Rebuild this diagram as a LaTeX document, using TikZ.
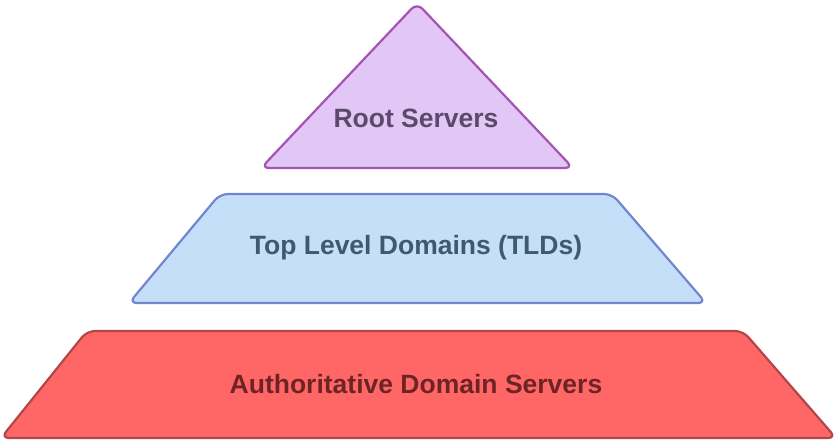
\documentclass[tikz,border=0pt]{standalone}
\usepackage{fontspec}
\setmainfont{Liberation Sans}
\definecolor{purpfill}{HTML}{E1C6F6}
\definecolor{purpline}{HTML}{A454B4}
\definecolor{purptext}{HTML}{5C4A6C}
\definecolor{bluefill}{HTML}{C6DFF9}
\definecolor{blueline}{HTML}{7286D0}
\definecolor{bluetext}{HTML}{3E5A70}
\definecolor{redfill}{HTML}{FF6767}
\definecolor{redline}{HTML}{B34646}
\definecolor{redtext}{HTML}{6E2424}
\tikzset{
  layer/.style={line width=2.2pt, rounded corners=8pt, line join=round},
  lbl/.style={font=\fontsize{26.5}{30}\selectfont\bfseries, inner sep=0pt}
}
\begin{document}
\begin{tikzpicture}[x=1pt,y=-1pt]
\useasboundingbox[fill=white] (0,0) rectangle (837,442);
% root triangle
\draw[layer, draw=purpline, fill=purpfill]
  (417,3) -- (573,168) -- (261,168) -- cycle;
% TLD trapezoid
\draw[layer, draw=blueline, fill=bluefill]
  (220,194) -- (612,194) -- (706,303) -- (129,303) -- cycle;
% authoritative trapezoid
\draw[layer, draw=redline, fill=redfill]
  (87,331) -- (743,331) -- (836,438) -- (1,438) -- cycle;
\node[lbl, text=purptext] (root) at (416,118) {Root Servers};
\node[lbl, text=bluetext] (tld) at (416,248) {Top Level Domains (TLDs)};
\node[lbl, text=redtext] (auth) at (416,384) {Authoritative Domain Servers};
\end{tikzpicture}
\end{document}
